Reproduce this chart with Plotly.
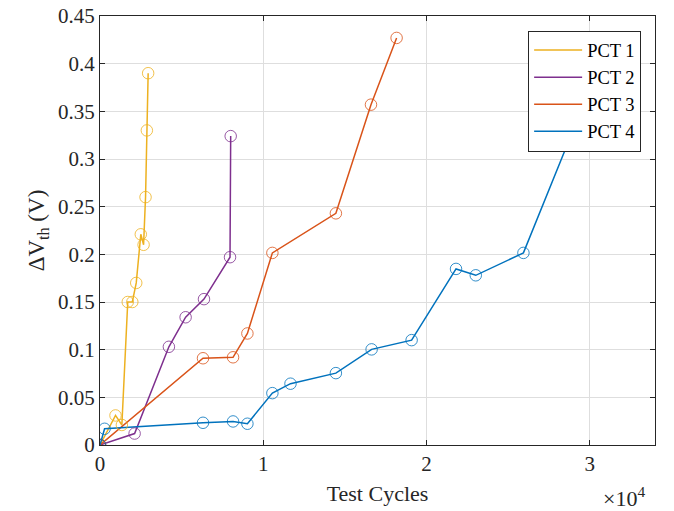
import plotly.graph_objects as go

series_names = ["PCT 1", "PCT 2", "PCT 3", "PCT 4"]
colors = ["#EDB120", "#7E2F8E", "#D95319", "#0072BD"]

pct1_x = [0, 950, 1340, 1700, 1980, 2220, 2500, 2670, 2790, 2870, 2950]
pct1_y = [0, 0.031, 0.021, 0.150, 0.150, 0.170, 0.221, 0.210, 0.260, 0.330, 0.390]

pct2_x = [0, 2120, 4220, 5245, 6370, 7965, 8006]
pct2_y = [0, 0.012, 0.103, 0.134, 0.153, 0.197, 0.324]

pct3_x = [0, 6310, 8150, 9030, 10560, 14450, 16600, 18170]
pct3_y = [0, 0.091, 0.092, 0.117, 0.2015, 0.243, 0.357, 0.427]

pct4_x = [0, 280, 6310, 8150, 9030, 10560, 11670, 14450, 16640, 19090, 21810, 23020, 25940, 28740]
pct4_y = [0, 0.017, 0.0233, 0.0247, 0.0223, 0.0544, 0.0643, 0.0754, 0.1003, 0.110, 0.1847, 0.178, 0.2015, 0.320]

x_tickvals = [0, 10000, 20000, 30000]
x_ticktext = ["0", "1", "2", "3"]
y_tickvals = [0, 0.05, 0.1, 0.15, 0.2, 0.25, 0.3, 0.35, 0.4, 0.45]
y_ticktext = ["0", "0.05", "0.1", "0.15", "0.2", "0.25", "0.3", "0.35", "0.4", "0.45"]

data = [(pct1_x, pct1_y), (pct2_x, pct2_y), (pct3_x, pct3_y), (pct4_x, pct4_y)]

FONT = "Liberation Serif"
AX = "#262626"

fig = go.Figure()
for name, color, (xs, ys) in zip(series_names, colors, data):
    fig.add_trace(go.Scatter(x=xs, y=ys, mode="lines", name=name,
                             line=dict(color=color, width=1.5)))
for name, color, (xs, ys) in zip(series_names, colors, data):
    fig.add_trace(go.Scatter(x=xs, y=ys, mode="markers", name=name, showlegend=False,
                             marker=dict(symbol="circle-open", size=11.5,
                                         color=color, line=dict(width=0.8, color=color))))

axis_common = dict(
    showline=True, linecolor=AX, linewidth=1.2, mirror="ticks",
    ticks="inside", ticklen=5, tickcolor=AX, tickwidth=1,
    showgrid=True, gridcolor="#dedede", gridwidth=1,
    zeroline=False, automargin=False,
    tickfont=dict(family=FONT, size=21, color=AX),
)

fig.update_xaxes(range=[0, 34000], tickvals=x_tickvals, ticktext=x_ticktext,
                 title=dict(text="Test Cycles", font=dict(family=FONT, size=22, color=AX), standoff=10),
                 **axis_common)
fig.update_yaxes(range=[0, 0.45], tickvals=y_tickvals, ticktext=y_ticktext,
                 title=dict(text="ΔV<sub>th</sub> (V)", font=dict(family=FONT, size=23, color=AX), standoff=6),
                 **axis_common)

fig.add_annotation(x=0.985, y=0, xref="paper", yref="paper", xanchor="right", yanchor="top",
                   yshift=-36, showarrow=False,
                   text="×10<sup>4</sup>", font=dict(family=FONT, size=22, color=AX))

fig.update_layout(
    width=674, height=511,
    margin=dict(l=100, r=19, t=16, b=66, autoexpand=False),
    plot_bgcolor="white", paper_bgcolor="white",
    legend=dict(x=0.975, y=0.966, xanchor="right", yanchor="top",
                bgcolor="white", bordercolor=AX, borderwidth=1,
                font=dict(family=FONT, size=18.5, color="#000000"),
                tracegroupgap=0, itemwidth=48),
    font=dict(family=FONT),
)

fig.write_html("out.html")
